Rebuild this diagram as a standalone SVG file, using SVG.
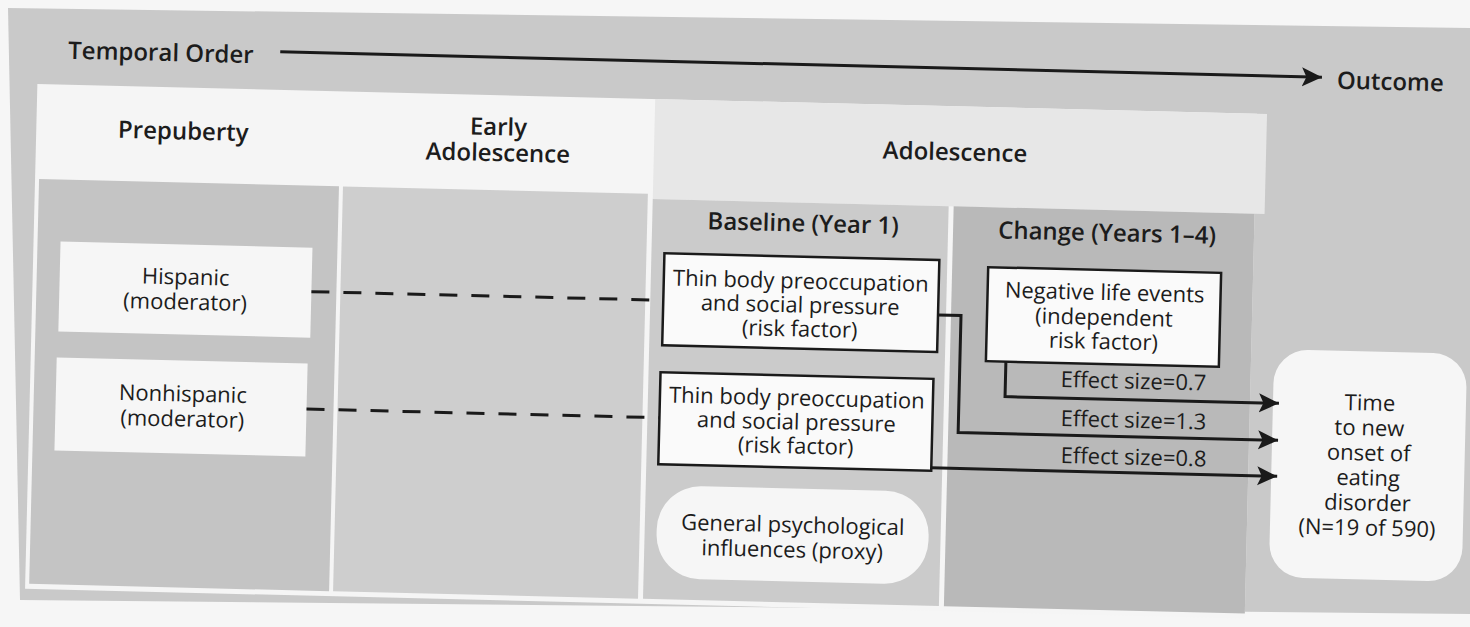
<svg xmlns="http://www.w3.org/2000/svg" width="1470" height="627" viewBox="0 0 1470 627">
  <defs>
    <style>
      .hdr { font-family: "Open Sans", "Noto Sans", "DejaVu Sans", sans-serif; font-weight: 600; font-size: 24px; fill: #1c1c1c; text-anchor: middle; }
      .txt { font-family: "Open Sans", "Noto Sans", "DejaVu Sans", sans-serif; font-size: 22px; fill: #1c1c1c; text-anchor: middle; }
      .box { fill: #fafafa; stroke: #1a1a1a; stroke-width: 2.5; }
      .plain { fill: #f6f6f6; }
      .conn { fill: none; stroke: #1a1a1a; stroke-width: 3; }
      .dash { stroke-dasharray: 18 14; }
    </style>
    <marker id="head" markerUnits="userSpaceOnUse" viewBox="0 0 22 20" markerWidth="22" markerHeight="20" refX="20" refY="10" orient="auto">
      <path d="M0,0.5 L20,10 L0,19.5 L4.5,10 z" fill="#1a1a1a"/>
    </marker>
  </defs>

  <!-- paper and grey backing -->
  <rect width="1470" height="627" fill="#f6f6f6"/>
  <polygon points="8,8 1470,28 1470,614 20,600" fill="#c9c9c9"/>

  <g transform="rotate(1.4 735 313)">
    <!-- period panel: white frame, headers and columns -->
    <g id="panel">
      <rect x="32" y="101" width="1220" height="505" fill="#f5f5f5"/>
      <rect x="650" y="101" width="612" height="100" fill="#e7e7e7"/>
      <rect x="36" y="196" width="300" height="405" fill="#c4c4c4"/>
      <rect x="340" y="196" width="305" height="405" fill="#cecece"/>
      <rect x="650" y="201" width="296" height="400" fill="#cbcbcb"/>
      <rect x="951" y="201" width="301" height="400" fill="#b9b9b9"/>
      <text class="hdr" x="179" y="153">Prepuberty</text>
      <text class="hdr" x="494" y="141">Early</text>
      <text class="hdr" x="494" y="167">Adolescence</text>
      <text class="hdr" x="951" y="155">Adolescence</text>
      <text class="hdr" x="801" y="230">Baseline (Year 1)</text>
      <text class="hdr" x="1105" y="232">Change (Years 1–4)</text>
    </g>

    <!-- time axis -->
    <g id="timeline">
      <text class="hdr" x="62" y="75" style="text-anchor:start">Temporal Order</text>
      <line class="conn" x1="274" y1="63" x2="1316" y2="63" marker-end="url(#head)"/>
      <text class="hdr" x="1331" y="74" style="text-anchor:start">Outcome</text>
    </g>

    <g id="hispanic">
      <rect class="plain" x="59" y="258" width="252" height="90"/>
      <text class="txt" x="185" y="298">Hispanic</text>
      <text class="txt" x="185" y="323">(moderator)</text>
    </g>

    <g id="nonhispanic">
      <rect class="plain" x="58" y="374" width="251" height="93"/>
      <text class="txt" x="185" y="415">Nonhispanic</text>
      <text class="txt" x="185" y="440">(moderator)</text>
    </g>

    <g id="thin-body-1">
      <rect class="box" x="663" y="255" width="275" height="92"/>
      <text class="txt" x="800" y="287">Thin body preoccupation</text>
      <text class="txt" x="800" y="311">and social pressure</text>
      <text class="txt" x="800" y="335">(risk factor)</text>
    </g>

    <g id="thin-body-2">
      <rect class="box" x="662" y="374" width="273" height="92"/>
      <text class="txt" x="799" y="404">Thin body preoccupation</text>
      <text class="txt" x="799" y="428">and social pressure</text>
      <text class="txt" x="799" y="452">(risk factor)</text>
    </g>

    <g id="negative-life-events">
      <rect class="box" x="987" y="261" width="233" height="94"/>
      <text class="txt" x="1104" y="291">Negative life events</text>
      <text class="txt" x="1104" y="316">(independent</text>
      <text class="txt" x="1104" y="340">risk factor)</text>
    </g>

    <g id="general-psych">
      <rect class="plain" x="662" y="487" width="272" height="93" rx="44"/>
      <text class="txt" x="798" y="531">General psychological</text>
      <text class="txt" x="798" y="556">influences (proxy)</text>
    </g>

    <g id="outcome-node">
      <rect class="plain" x="1275" y="336" width="193" height="228" rx="34"/>
      <text class="txt" x="1372" y="395">Time</text>
      <text class="txt" x="1372" y="420">to new</text>
      <text class="txt" x="1372" y="445">onset of</text>
      <text class="txt" x="1372" y="470">eating</text>
      <text class="txt" x="1372" y="495">disorder</text>
      <text class="txt" x="1372" y="520">(N=19 of 590)</text>
    </g>

    <g id="connectors">
      <path class="conn dash" d="M311,302 H663"/>
      <path class="conn dash" d="M309,419.5 H662"/>
      <path class="conn" d="M938,310 H961 V427 H1281" marker-end="url(#head)"/>
      <path class="conn" d="M1007,355 V390 H1281" marker-end="url(#head)"/>
      <path class="conn" d="M935,463 H1281" marker-end="url(#head)"/>
      <text class="txt" x="1135" y="379">Effect size=0.7</text>
      <text class="txt" x="1136" y="418">Effect size=1.3</text>
      <text class="txt" x="1137" y="455">Effect size=0.8</text>
    </g>
  </g>
</svg>
